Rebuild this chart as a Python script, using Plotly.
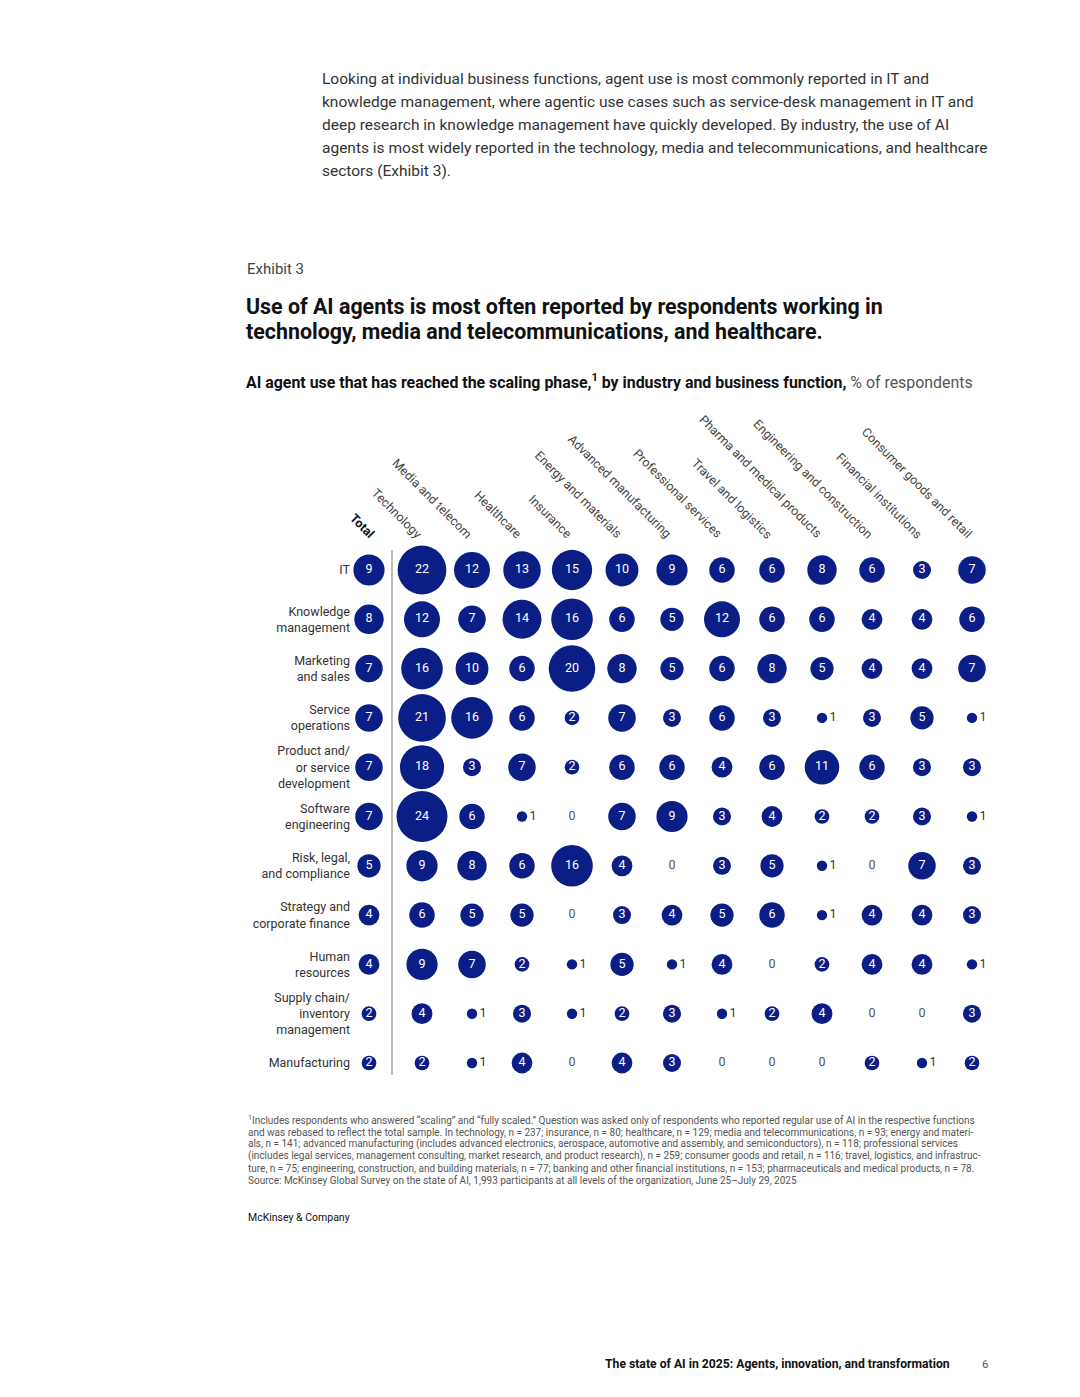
import plotly.graph_objects as go

W, H = 1080, 1397
OX, OY = 8, 8   # page body margin in the browser

# ---------------- data ----------------
functions = [
    "IT",
    "Knowledge<br>management",
    "Marketing<br>and sales",
    "Service<br>operations",
    "Product and/<br>or service<br>development",
    "Software<br>engineering",
    "Risk, legal,<br>and compliance",
    "Strategy and<br>corporate finance",
    "Human<br>resources",
    "Supply chain/<br>inventory<br>management",
    "Manufacturing",
]
columns = [
    "<b>Total</b>", "Technology", "Media and telecom", "Healthcare", "Insurance",
    "Energy and materials", "Advanced manufacturing", "Professional services",
    "Travel and logistics", "Pharma and medical products",
    "Engineering and construction", "Financial institutions",
    "Consumer goods and retail",
]
# one list per business function; order follows `columns`
it_vals            = [9, 22, 12, 13, 15, 10, 9, 6, 6, 8, 6, 3, 7]
knowledge_vals     = [8, 12, 7, 14, 16, 6, 5, 12, 6, 6, 4, 4, 6]
marketing_vals     = [7, 16, 10, 6, 20, 8, 5, 6, 8, 5, 4, 4, 7]
service_ops_vals   = [7, 21, 16, 6, 2, 7, 3, 6, 3, 1, 3, 5, 1]
product_dev_vals   = [7, 18, 3, 7, 2, 6, 6, 4, 6, 11, 6, 3, 3]
software_vals      = [7, 24, 6, 1, 0, 7, 9, 3, 4, 2, 2, 3, 1]
risk_vals          = [5, 9, 8, 6, 16, 4, 0, 3, 5, 1, 0, 7, 3]
strategy_vals      = [4, 6, 5, 5, 0, 3, 4, 5, 6, 1, 4, 4, 3]
hr_vals            = [4, 9, 7, 2, 1, 5, 1, 4, 0, 2, 4, 4, 1]
supply_chain_vals  = [2, 4, 1, 3, 1, 2, 3, 1, 2, 4, 0, 0, 3]
manufacturing_vals = [2, 2, 1, 4, 0, 4, 3, 0, 0, 0, 2, 1, 2]

matrix = [it_vals, knowledge_vals, marketing_vals, service_ops_vals, product_dev_vals,
          software_vals, risk_vals, strategy_vals, hr_vals, supply_chain_vals,
          manufacturing_vals]

# ---------------- layout helpers ----------------
NAVY = "#0b1e86"
FONT = "Roboto, Arial, sans-serif"
col_pos = [-0.06] + [float(i) for i in range(1, 13)]   # Total column sits slightly apart


def px_x(p):
    return (p - OX) / W


def px_y(p):
    return 1 - (p - OY) / H


xs, ys, sizes, texts, tpos, tcol = [], [], [], [], [], []
for r, row in enumerate(matrix):
    for c, v in enumerate(row):
        xs.append(col_pos[c])
        ys.append(r)
        sizes.append(v)
        texts.append(str(v))
        if v >= 2:
            tpos.append("middle center")
            tcol.append("white")
        elif v == 1:
            tpos.append("middle right")
            tcol.append("#333333")
        else:
            tpos.append("middle center")
            tcol.append("#555555")

fig = go.Figure()
fig.add_trace(go.Scatter(
    x=xs, y=ys, mode="markers+text",
    marker=dict(size=sizes, sizemode="area", sizeref=2 / (10.4 ** 2), sizemin=0,
                color=NAVY, opacity=1, line=dict(width=0)),
    text=texts, textposition=tpos,
    textfont=dict(color=tcol, size=12.5, family=FONT),
    cliponaxis=False, hoverinfo="skip", showlegend=False,
))

fig.update_layout(
    width=W, height=H, margin=dict(l=0, r=0, t=0, b=0),
    paper_bgcolor="white", plot_bgcolor="white",
    font=dict(family=FONT, color="#333333"),
    xaxis=dict(domain=[px_x(352), px_x(1000)], range=[-0.4, 12.56],
               showgrid=False, zeroline=False, showticklabels=False, showline=False,
               fixedrange=True),
    yaxis=dict(domain=[px_y(1090), px_y(540)], range=[(1090 - 570) / 49.3, (540 - 570) / 49.3],
               showgrid=False, zeroline=False, showline=False, ticks="",
               tickmode="array", tickvals=list(range(len(functions))), ticktext=functions,
               tickfont=dict(size=12.5, color="#333333"), ticklabelstandoff=1,
               fixedrange=True),
)

# divider between Total and industries
fig.add_shape(type="line", xref="x", yref="paper", x0=0.4, x1=0.4,
              y0=px_y(1075), y1=px_y(550), line=dict(color="#a6a6a6", width=1.5))

ann = []
# column headers
for c, name in enumerate(columns):
    ann.append(dict(x=col_pos[c] + (0.22 if c == 0 else 0.12), y=px_y(544),
                    xref="x", yref="paper",
                    text=name, textangle=45, showarrow=False,
                    xanchor="right", yanchor="bottom",
                    font=dict(size=12.5, color="#111111" if c == 0 else "#444444")))

# intro paragraph
para = [
    "Looking at individual business functions, agent use is most commonly reported in IT and",
    "knowledge management, where agentic use cases such as service-desk management in IT and",
    "deep research in knowledge management have quickly developed. By industry, the use of AI",
    "agents is most widely reported in the technology, media and telecommunications, and healthcare",
    "sectors (Exhibit 3).",
]
for i, line in enumerate(para):
    ann.append(dict(x=px_x(320), y=px_y(79 + 23 * i), xref="paper", yref="paper",
                    text=line, showarrow=False, xanchor="left", yanchor="middle",
                    font=dict(size=15.5, color="#333333")))

ann.append(dict(x=px_x(245), y=px_y(269), xref="paper", yref="paper", text="Exhibit 3",
                showarrow=False, xanchor="left", yanchor="middle",
                font=dict(size=15, color="#444444")))

title = [
    "Use of AI agents is most often reported by respondents working in",
    "technology, media and telecommunications, and healthcare.",
]
for i, line in enumerate(title):
    ann.append(dict(x=px_x(244), y=px_y(307 + 25 * i), xref="paper", yref="paper",
                    text="<b>" + line + "</b>", showarrow=False, xanchor="left",
                    yanchor="middle", font=dict(size=21.4, color="#111111")))

ann.append(dict(x=px_x(244), y=px_y(381), xref="paper", yref="paper",
                text="<b>AI agent use that has reached the scaling phase,<sup>1</sup> by industry and "
                     "business function,</b> <span style='color:#555555'>% of respondents</span>",
                showarrow=False, xanchor="left", yanchor="middle",
                font=dict(size=15.9, color="#111111")))

foot = [
    "<sup>1</sup>Includes respondents who answered \u201cscaling\u201d and \u201cfully scaled.\u201d Question was asked only of respondents who reported regular use of AI in the respective functions",
    "and was rebased to reflect the total sample. In technology, n = 237; insurance, n = 80; healthcare, n = 129; media and telecommunications, n = 93; energy and materi-",
    "als, n = 141; advanced manufacturing (includes advanced electronics, aerospace, automotive and assembly, and semiconductors), n = 118; professional services",
    "(includes legal services, management consulting, market research, and product research), n = 259; consumer goods and retail, n = 116; travel, logistics, and infrastruc-",
    "ture, n = 75; engineering, construction, and building materials, n = 77; banking and other financial institutions, n = 153; pharmaceuticals and medical products, n = 78.",
    "Source: McKinsey Global Survey on the state of AI, 1,993 participants at all levels of the organization, June 25\u2013July 29, 2025",
]
for i, line in enumerate(foot):
    ann.append(dict(x=px_x(246), y=px_y(1120 + 12 * i), xref="paper", yref="paper",
                    text=line, showarrow=False, xanchor="left", yanchor="middle",
                    font=dict(size=10, color="#555555")))

ann.append(dict(x=px_x(246), y=px_y(1217), xref="paper", yref="paper",
                text="McKinsey & Company", showarrow=False, xanchor="left", yanchor="middle",
                font=dict(size=10.5, color="#111111")))
ann.append(dict(x=px_x(952), y=px_y(1364), xref="paper", yref="paper",
                text="<b>The state of AI in 2025: Agents, innovation, and transformation</b>",
                showarrow=False, xanchor="right", yanchor="middle",
                font=dict(size=12.2, color="#111111")))
ann.append(dict(x=px_x(990), y=px_y(1364), xref="paper", yref="paper", text="6",
                showarrow=False, xanchor="right", yanchor="middle",
                font=dict(size=11.5, color="#555555")))

fig.update_layout(annotations=ann)
fig.write_html("out.html")
